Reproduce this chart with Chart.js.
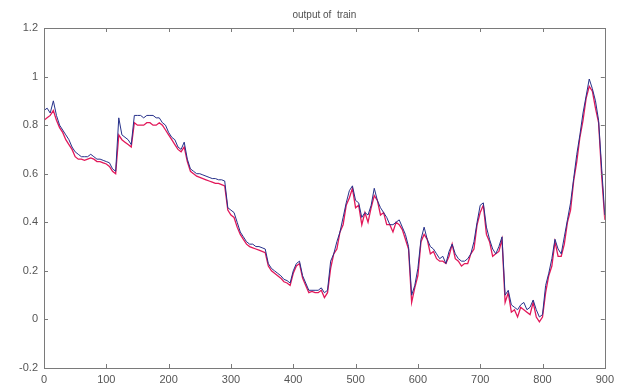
<!DOCTYPE html>
<html>
<head>
<meta charset="utf-8">
<script src="https://cdn.jsdelivr.net/npm/chart.js@4/dist/chart.umd.min.js"></script>
<style>
  html, body { margin: 0; padding: 0; background: #ffffff; }
  #wrap { width: 619px; height: 390px; }
</style>
</head>
<body>
<div id="wrap"><canvas id="trainChart" width="619" height="390"></canvas></div>
<script>
// Data (sample index every 5 steps)
const titleText = 'output of  train';
const xTicks = [0, 100, 200, 300, 400, 500, 600, 700, 800, 900];
const yTicks = [-0.2, 0, 0.2, 0.4, 0.6, 0.8, 1, 1.2];

const sampleIdx = [
  0, 5, 10, 15, 20, 25, 30, 35, 40, 45, 50, 55, 60, 65, 70, 75, 80, 85, 90, 95,
  100, 105, 110, 115, 120, 125, 130, 135, 140, 145, 150, 155, 160, 165, 170, 175, 180, 185, 190, 195,
  200, 205, 210, 215, 220, 225, 230, 235, 240, 245, 250, 255, 260, 265, 270, 275, 280, 285, 290, 295,
  300, 305, 310, 315, 320, 325, 330, 335, 340, 345, 350, 355, 360, 365, 370, 375, 380, 385, 390, 395,
  400, 405, 410, 415, 420, 425, 430, 435, 440, 445, 450, 455, 460, 465, 470, 475, 480, 485, 490, 495,
  500, 505, 510, 515, 520, 525, 530, 535, 540, 545, 550, 555, 560, 565, 570, 575, 580, 585, 590, 595,
  600, 605, 610, 615, 620, 625, 630, 635, 640, 645, 650, 655, 660, 665, 670, 675, 680, 685, 690, 695,
  700, 705, 710, 715, 720, 725, 730, 735, 740, 745, 750, 755, 760, 765, 770, 775, 780, 785, 790, 795,
  800, 805, 810, 815, 820, 825, 830, 835, 840, 845, 850, 855, 860, 865, 870, 875, 880, 885, 890, 895,
  900
];

// target (blue)
const targetVals = [
  0.86, 0.87, 0.85, 0.90, 0.84, 0.80, 0.78, 0.76, 0.74, 0.71, 0.69, 0.68, 0.67, 0.67, 0.67, 0.68, 0.67, 0.66, 0.66, 0.655,
  0.65, 0.645, 0.62, 0.61, 0.83, 0.76, 0.75, 0.74, 0.72, 0.84, 0.84, 0.84, 0.83, 0.84, 0.84, 0.84, 0.83, 0.83, 0.81, 0.80,
  0.77, 0.75, 0.74, 0.71, 0.70, 0.73, 0.66, 0.62, 0.61, 0.60, 0.60, 0.595, 0.59, 0.585, 0.58, 0.58, 0.575, 0.575, 0.57, 0.46,
  0.45, 0.44, 0.40, 0.36, 0.34, 0.32, 0.31, 0.31, 0.30, 0.30, 0.295, 0.29, 0.23, 0.21, 0.20, 0.19, 0.18, 0.165, 0.16, 0.15,
  0.20, 0.23, 0.24, 0.18, 0.15, 0.12, 0.12, 0.12, 0.12, 0.13, 0.11, 0.12, 0.24, 0.27, 0.32, 0.36, 0.42, 0.48, 0.53, 0.55,
  0.49, 0.48, 0.42, 0.44, 0.43, 0.47, 0.54, 0.49, 0.46, 0.44, 0.42, 0.39, 0.39, 0.40, 0.41, 0.38, 0.35, 0.30, 0.10, 0.14,
  0.21, 0.33, 0.38, 0.33, 0.30, 0.29, 0.27, 0.25, 0.26, 0.23, 0.28, 0.31, 0.27, 0.25, 0.24, 0.24, 0.25, 0.27, 0.32, 0.40,
  0.47, 0.48, 0.38, 0.33, 0.29, 0.27, 0.30, 0.34, 0.10, 0.12, 0.06, 0.05, 0.04, 0.06, 0.07, 0.04, 0.05, 0.08, 0.04, 0.01,
  0.02, 0.14, 0.19, 0.25, 0.33, 0.29, 0.27, 0.34, 0.41, 0.48, 0.58, 0.68, 0.76, 0.85, 0.92, 0.99, 0.95, 0.90, 0.82, 0.62,
  0.43
];

// network output (red)
const outputVals = [
  0.82, 0.83, 0.84, 0.86, 0.82, 0.79, 0.77, 0.74, 0.72, 0.70, 0.67, 0.66, 0.66, 0.655, 0.66, 0.665, 0.66, 0.65, 0.65, 0.645,
  0.64, 0.63, 0.61, 0.60, 0.76, 0.74, 0.73, 0.72, 0.71, 0.81, 0.80, 0.80, 0.80, 0.81, 0.81, 0.80, 0.80, 0.81, 0.80, 0.78,
  0.76, 0.74, 0.72, 0.70, 0.69, 0.71, 0.65, 0.61, 0.60, 0.59, 0.585, 0.58, 0.575, 0.57, 0.565, 0.56, 0.56, 0.555, 0.55, 0.45,
  0.43, 0.42, 0.38, 0.35, 0.33, 0.31, 0.30, 0.295, 0.29, 0.285, 0.28, 0.275, 0.22, 0.20, 0.19, 0.18, 0.17, 0.155, 0.15, 0.14,
  0.19, 0.22, 0.23, 0.17, 0.14, 0.11, 0.115, 0.11, 0.11, 0.12, 0.09, 0.11, 0.21, 0.27, 0.29, 0.36, 0.39, 0.47, 0.50, 0.54,
  0.46, 0.47, 0.39, 0.44, 0.40, 0.46, 0.51, 0.49, 0.43, 0.44, 0.39, 0.39, 0.36, 0.40, 0.39, 0.37, 0.33, 0.29, 0.07, 0.13,
  0.18, 0.32, 0.35, 0.33, 0.27, 0.28, 0.25, 0.24, 0.24, 0.23, 0.26, 0.31, 0.25, 0.24, 0.22, 0.23, 0.23, 0.27, 0.29, 0.39,
  0.44, 0.47, 0.35, 0.32, 0.26, 0.27, 0.28, 0.33, 0.07, 0.11, 0.03, 0.04, 0.01, 0.05, 0.04, 0.03, 0.02, 0.07, 0.01, -0.01,
  0.01, 0.11, 0.18, 0.22, 0.32, 0.26, 0.26, 0.31, 0.40, 0.45, 0.57, 0.65, 0.75, 0.82, 0.91, 0.96, 0.94, 0.87, 0.81, 0.59,
  0.41
];

const PLOT_LEFT = 44;
const PLOT_BOTTOM_GAP = 22;
const axisGrey = '#7a7a7a';
const labelGrey = '#555555';

// matlab style box + inward ticks on all four sides, plus title
const boxPlugin = {
  id: 'matlabBox',
  afterDraw(chart) {
    const { ctx, chartArea: a, scales } = chart;
    ctx.save();
    ctx.strokeStyle = axisGrey;
    ctx.lineWidth = 1;
    ctx.strokeRect(Math.round(a.left) + 0.5, Math.round(a.top) + 0.5,
      Math.round(a.right - a.left), Math.round(a.bottom - a.top));
    const tl = 4;
    ctx.beginPath();
    xTicks.forEach(v => {
      const x = Math.round(scales.x.getPixelForValue(v)) + 0.5;
      ctx.moveTo(x, a.bottom); ctx.lineTo(x, a.bottom - tl);
      ctx.moveTo(x, a.top); ctx.lineTo(x, a.top + tl);
    });
    yTicks.forEach(v => {
      const y = Math.round(scales.y.getPixelForValue(v)) + 0.5;
      ctx.moveTo(a.left, y); ctx.lineTo(a.left + tl, y);
      ctx.moveTo(a.right, y); ctx.lineTo(a.right - tl, y);
    });
    ctx.stroke();

    ctx.fillStyle = '#505050';
    ctx.font = '10px "Liberation Sans", Arial, sans-serif';
    ctx.textAlign = 'center';
    ctx.textBaseline = 'alphabetic';
    ctx.fillText(titleText, (a.left + a.right) / 2, 18);
    ctx.restore();
  }
};

const ctx = document.getElementById('trainChart').getContext('2d');
new Chart(ctx, {
  type: 'line',
  data: {
    labels: sampleIdx,
    datasets: [
      {
        label: 'target',
        data: sampleIdx.map((x, i) => ({ x: x, y: targetVals[i] })),
        borderColor: '#26308a',
        borderWidth: 1,
        pointRadius: 0,
        tension: 0
      },
      {
        label: 'output',
        data: sampleIdx.map((x, i) => ({ x: x, y: outputVals[i] })),
        borderColor: '#e2185a',
        borderWidth: 1.3,
        pointRadius: 0,
        tension: 0
      }
    ]
  },
  options: {
    responsive: false,
    animation: false,
    layout: { padding: { top: 28, right: 12, left: 0, bottom: 0 } },
    plugins: {
      legend: { display: false },
      tooltip: { enabled: false },
      title: { display: false }
    },
    scales: {
      x: {
        type: 'linear',
        min: 0,
        max: 900,
        afterFit(scale) { scale.height = PLOT_BOTTOM_GAP; },
        afterBuildTicks(scale) { scale.ticks = xTicks.map(v => ({ value: v })); },
        grid: { display: false, drawTicks: false },
        border: { display: false },
        ticks: {
          color: labelGrey,
          font: { family: '"Liberation Sans", Arial, sans-serif', size: 11 },
          padding: 5,
          maxRotation: 0,
          autoSkip: false
        }
      },
      y: {
        min: -0.2,
        max: 1.2,
        afterFit(scale) { scale.width = PLOT_LEFT; },
        afterBuildTicks(scale) { scale.ticks = yTicks.map(v => ({ value: v })); },
        grid: { display: false, drawTicks: false },
        border: { display: false },
        ticks: {
          color: labelGrey,
          font: { family: '"Liberation Sans", Arial, sans-serif', size: 11 },
          padding: 6,
          callback: v => String(Number(v.toFixed(1)))
        }
      }
    }
  },
  plugins: [boxPlugin]
});
</script>
</body>
</html>
